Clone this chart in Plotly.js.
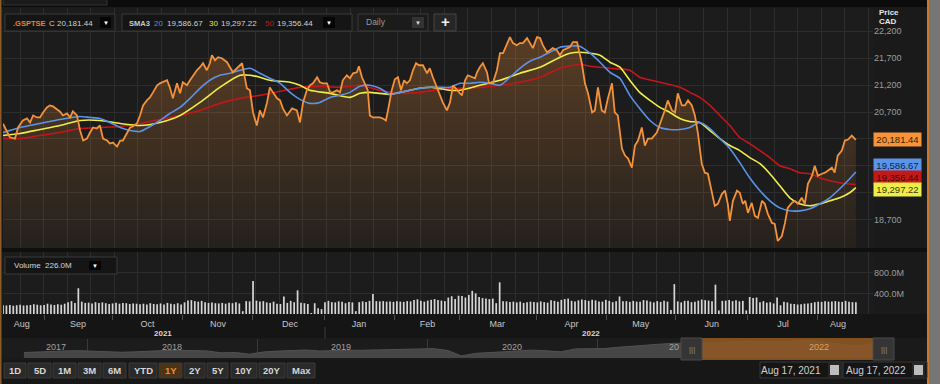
<!DOCTYPE html>
<html><head><meta charset="utf-8">
<script src="https://cdn.plot.ly/plotly-3.0.1.min.js"></script>
<style>html,body{margin:0;padding:0;background:#181818;overflow:hidden}#chart{width:940px;height:384px}</style>
</head><body><div id="chart"></div>
<script>
// ---- DATA ----
// trading session number (0 = Aug 17 2021, 249 = Aug 17 2022) and close of .GSPTSE
const closeSession = [0,1.1,2.0,3.5,4.4,5.8,7.0,7.9,8.8,9.9,10.8,11.7,12.8,13.7,14.6,15.8,16.6,17.5,18.7,19.6,
20.4,21.6,22.5,23.4,24.5,25.4,26.3,27.4,28.3,29.2,30.4,31.2,32.1,33.3,34.2,35.0,36.2,37.1,37.9,39.1,
40.0,40.9,42.0,42.9,43.8,45.0,45.8,46.7,47.9,48.7,49.6,50.8,51.7,52.5,53.7,54.6,55.5,56.6,57.5,58.4,
59.5,60.4,61.0,61.9,62.8,63.9,65.4,66.3,67.1,68.3,69.8,71.2,72.1,73.0,74.1,75.0,75.9,77.1,77.9,78.8,
80.0,80.9,81.7,82.9,84.4,85.8,86.7,87.6,88.7,89.6,90.5,91.7,92.5,93.4,94.6,95.5,96.3,97.5,98.4,99.2,
100.4,101.3,102.2,103.3,103.9,104.8,105.7,106.5,107.1,108.0,109.2,110.0,110.9,111.8,112.4,113.5,114.4,115.3,116.2,117.1,
117.9,118.8,119.7,120.6,121.4,122.6,123.8,124.6,125.5,126.7,127.6,128.4,129.6,130.5,131.4,132.5,133.4,134.0,134.9,135.7,
136.9,137.8,138.4,139.2,140.1,141.3,141.9,143.0,144.2,145.1,146.0,147.1,148.0,148.9,150.0,150.9,151.8,153.0,153.8,154.7,
155.9,156.8,157.6,158.8,159.7,160.5,161.7,162.6,163.5,164.6,165.5,166.4,167.6,169.0,169.9,170.8,172.0,172.8,173.7,174.8,
175.7,176.6,177.8,178.6,179.5,180.7,181.6,182.5,183.6,184.5,185.4,186.5,187.4,188.3,189.4,190.9,192.4,193.2,194.1,195.3,
196.2,197.0,198.2,199.1,200.0,201.1,202.0,202.9,204.0,204.9,205.8,207.0,207.8,208.7,209.9,210.8,211.6,212.2,213.1,214.3,
215.1,216.0,216.7,217.5,218.6,219.5,220.4,221.6,222.4,223.3,224.5,225.3,226.2,227.4,228.3,229.1,230.3,231.2,232.1,233.2,
234.1,235.0,236.2,237.0,237.9,239.1,240.0,240.8,242.0,242.8,243.7,244.9,245.8,246.7,247.8,249.0];
const closeValue = [20482,20357,20232,20208,20413,20543,20580,20506,20636,20599,20599,20692,20785,20822,20804,20748,20711,20636,20673,20599,
20711,20636,20357,20171,20208,20320,20413,20394,20450,20208,20171,20115,20134,20059,20171,20171,20301,20413,20431,20487,
20636,20822,20915,20971,21064,21195,21232,21251,21288,21157,20953,21232,21046,21251,21195,21288,21381,21474,21530,21604,
21474,21604,21753,21660,21716,21697,21623,21530,21437,21511,21604,21139,21102,20692,20450,20729,20599,20878,21157,21064,
20953,20915,20767,20636,20767,20729,20506,20878,21102,21195,21232,21344,21251,21232,21232,21064,21064,21102,21064,21288,
21381,21325,21418,21437,21548,21344,21232,21102,20636,20599,20599,20599,20580,20543,20729,21102,21306,21344,21102,21288,
21232,21288,21474,21604,21567,21567,21418,21511,21344,21157,21009,20878,20729,20878,21195,21102,21046,21009,21288,21381,
21344,21325,21437,21530,21604,21437,21232,21232,21474,21790,21790,21939,22088,21977,21939,21977,21977,22070,21977,21884,
22088,22070,21939,21809,21846,21884,21846,21753,21846,21884,21902,21995,21995,21604,21232,21046,20692,20729,21157,20729,
20692,20953,21232,20692,20636,20022,19892,19836,19668,20078,20171,20413,20078,20208,20208,20320,20580,20729,20915,20729,
20692,21046,20822,20822,20915,20822,20636,20301,19743,19575,19556,19184,18961,18998,19184,19240,18998,18681,19054,19240,
19203,18998,19054,18830,19016,18775,18737,19054,18998,18812,18644,18626,18309,18402,18644,18923,19016,19054,18998,19110,
18998,19370,19519,19705,19519,19556,19575,19612,19668,19575,19892,19985,20171,20190,20264,20181.44];

// 20-, 30- and 50-day simple moving averages
const sma20Session = [0,5,10.8,16.6,22.5,25.4,28.3,31.2,34.2,37.1,40,42.9,45.8,48.7,51.7,54.6,57.5,60.4,63.3,66.3,69.2,72.1,75,77.9,80.9,83.8,86.7,89.6,92.5,95.5,98.4,101.3,104.2,107.1,110,113,115.9,118.8,121.7,124.6,127.6,130.5,133.4,136.3,139.2,142.2,145.1,148,150.9,153.8,156.8,159.7,162.6,165.5,168.4,171.4,174.3,177.2,180.1,183,185.9,188.9,191.8,194.7,197.6,200.5,203.4,206.4,209.3,212.2,215.1,218,221,223.9,226.8,229.7,232.6,235.6,238.5,241.4,244.3,247.2,249];
const sma20Value = [20320,20413,20487,20562,20618,20599,20580,20506,20413,20357,20338,20431,20543,20673,20785,20953,21139,21288,21381,21418,21474,21511,21418,21325,21232,21064,20934,20860,20878,20971,21009,21064,21176,21195,21139,21027,21064,21102,21139,21157,21157,21157,21232,21232,21251,21232,21195,21344,21511,21642,21716,21809,21902,21921,21921,21790,21623,21437,21325,21009,20767,20543,20413,20376,20376,20413,20506,20394,20208,20022,19761,19482,19240,19054,18923,18868,18868,18905,18998,19110,19277,19463,19586.67];
const sma30Session = [0,5,10.8,16.6,22.5,28.3,34.2,40,45.8,51.7,57.5,63.3,69.2,72.1,75,77.9,83.8,86.7,89.6,95.5,101.3,104.2,107.1,110,113,115.9,121.7,125.5,130.5,133.4,139.2,145.1,150.9,156.8,162.6,165.5,168.4,171.4,174.3,177.2,180.1,183,185.9,188.9,191.8,194.7,197.6,200.5,203.4,206.4,209.3,212.2,215.1,218,221,223.9,226.8,229.7,232.6,235.6,238.5,241.4,244.3,247.2,249];
const sma30Value = [20264,20301,20376,20450,20543,20543,20487,20450,20506,20636,20878,21157,21381,21381,21344,21288,21251,21195,21102,21046,20971,21046,21064,21046,21027,21064,21139,21157,21102,21102,21195,21288,21418,21530,21716,21790,21809,21790,21753,21623,21530,21288,21064,20915,20785,20692,20580,20524,20506,20357,20208,20078,19985,19854,19743,19556,19333,19110,18998,18961,18998,19054,19110,19203,19297.22];
const sma50Session = [0,5,10.8,16.6,22.5,28.3,34.2,40,45.8,51.7,57.5,63.3,69.2,75,80.9,86.7,92.5,98.4,104.2,110,115.9,121.7,127.6,133.4,139.2,145.1,150.9,156.8,162.6,168.4,171.4,177.2,183,185.9,191.8,197.6,200.5,203.4,206.4,209.3,212.2,215.1,218,221,223.9,226.8,229.7,232.6,235.6,238.5,241.4,244.3,249];
const sma50Value = [20208,20208,20264,20320,20394,20413,20431,20487,20562,20636,20729,20860,20953,21009,21083,21157,21176,21157,21195,21102,21046,21064,21120,21139,21157,21195,21251,21344,21511,21586,21548,21511,21474,21344,21251,21157,21064,20971,20822,20636,20450,20227,20115,19985,19854,19705,19649,19575,19556,19482,19426,19389,19356.44];

// daily volume, millions (one value per session, Aug 17 2021 .. Aug 17 2022)
const volumeM = [170,165,175,160,170,180,165,170,175,190, 180,170,175,200,185,175,190,180,200,230,
250,215,500,240,215,220,205,230,215,225, 210,195,205,220,200,215,210,195,205,200,
190,200,185,210,195,190,205,185,215,200, 190,210,185,225,260,270,250,240,255,230,
215,225,210,205,215,200,220,210,230,205, 55,250,245,640,260,245,250,225,215,240,
200,195,340,215,255,230,460,220,210,195, 20,210,110,95,230,255,230,225,245,240,
210,235,225,55,230,245,235,255,390,250, 245,250,240,245,235,250,240,235,250,245,
270,285,255,240,260,275,290,270,260,250, 320,345,290,355,350,320,370,450,400,330,
310,300,290,300,210,615,250,245,235,240, 225,240,215,230,240,235,225,245,230,220,
265,255,240,275,290,300,255,245,265,280, 270,255,275,265,245,240,275,255,230,250,
340,250,250,235,255,240,240,270,260,240, 225,250,235,255,240,80,580,245,225,255,
255,230,240,260,280,270,260,250,570,70, 255,260,270,250,265,245,255,70,330,310,
320,230,250,220,230,205,320,170,240,225, 200,195,185,190,200,205,215,230,240,235,
250,240,245,250,240,235,255,240,230,226];
const volumeSession = volumeM.map((v,i)=>i);

// time axis labels
const monthName = ['Aug','Sep','Oct','Nov','Dec','Jan','Feb','Mar','Apr','May','Jun','Jul','Aug'];
const monthMid = [5.5,21.9,42.2,62.8,83.8,103.9,123.9,144.3,166.0,186.2,206.9,227.7,243.8];
const monthStart = [12.0,32.1,52.3,72.7,94.0,114.4,133.4,155.9,176.3,196.4,217.5,237.9];
const priceTicks = [18700,19200,19700,20200,20700,21200,21700,22200];
// labels 19,200 / 19,700 / 20,200 sit under the last-value badges in the reference
const priceTickText = ['18,700','','','','20,700','21,200','21,700','22,200'];

// navigator history (monthly)
const navDate = ['2017-08-17','2017-09-15','2017-10-15','2017-11-15','2017-12-15',
'2018-01-15','2018-02-15','2018-03-15','2018-04-15','2018-05-15','2018-06-15','2018-07-15','2018-08-15','2018-09-15','2018-10-15','2018-11-15','2018-12-15',
'2019-01-15','2019-02-15','2019-03-15','2019-04-15','2019-05-15','2019-06-15','2019-07-15','2019-08-15','2019-09-15','2019-10-15','2019-11-15','2019-12-15',
'2020-01-15','2020-02-15','2020-03-15','2020-04-15','2020-05-15','2020-06-15','2020-07-15','2020-08-15','2020-09-15','2020-10-15','2020-11-15','2020-12-15',
'2021-01-15','2021-02-15','2021-03-15','2021-04-15','2021-05-15','2021-06-15','2021-07-15','2021-08-15','2021-09-15','2021-10-15','2021-11-15','2021-12-15',
'2022-01-15','2022-02-15','2022-03-15','2022-04-15','2022-05-15','2022-06-15','2022-07-15','2022-08-17'];
const navValue = [15200,15600,16000,16100,16200, 15950,15450,15370,15600,16060,16280,16430,16260,16070,15030,15200,14320,
15540,16000,16100,16580,16040,16380,16410,16440,16660,16480,17040,17060,
17320,16260,13380,14780,15190,15520,16170,16510,16120,15580,17190,17430,
17340,18060,18700,19110,19730,20230,20290,20500,20350,21000,21400,21150,
21200,21100,21700,21700,20300,19500,18700,20181];

const rangeButtons = ['1D','5D','1M','3M','6M','YTD','1Y','2Y','5Y','10Y','20Y','Max'];

// ---- LAYOUT HELPERS ----
const W=940,H=384,ML=3,MR=67,PW=W-ML-MR;
const FONT='Liberation Sans, Arial, sans-serif';
const px=x=>(x-ML)/PW, py=y=>(H-y)/H;
const GRID='#2d2d2d';
function T(text,x,y,o){return Object.assign({text:text,xref:'paper',yref:'paper',x:px(x),y:py(y),xanchor:'left',yanchor:'middle',showarrow:false,font:{family:FONT,size:9,color:'#cfcfcf'}},o||{});}
function R(x0,y0,x1,y1,fill,line,o){return Object.assign({type:'rect',xref:'paper',yref:'paper',x0:px(x0),x1:px(x1),y0:py(y1),y1:py(y0),fillcolor:fill,line:{color:line||'rgba(0,0,0,0)',width:line?1:0},layer:'above'},o||{});}

const data = [
 {type:'scatter',x:closeSession,y:closeValue,mode:'none',fill:'tozeroy',hoverinfo:'skip',
  fillgradient:{type:'vertical',start:18179,stop:22300,colorscale:[[0,'rgba(247,148,58,0.04)'],[1,'rgba(247,148,58,0.29)']]}},
 {type:'scatter',x:sma50Session,y:sma50Value,mode:'lines',line:{color:'#c3161c',width:1.6,shape:'spline',smoothing:0.6}},
 {type:'scatter',x:sma30Session,y:sma30Value,mode:'lines',line:{color:'#eeee48',width:1.6,shape:'spline',smoothing:0.6}},
 {type:'scatter',x:sma20Session,y:sma20Value,mode:'lines',line:{color:'#5a93e8',width:1.6,shape:'spline',smoothing:0.6}},
 {type:'scatter',x:closeSession,y:closeValue,mode:'lines',line:{color:'#f3923a',width:1.8}},
 {type:'bar',x:volumeSession,y:volumeM,xaxis:'x2',yaxis:'y2',width:0.5,marker:{color:'#d6d6d6',line:{width:0}}},
 {type:'scatter',x:[],y:[],xaxis:'x3',yaxis:'y2'},
 {type:'scatter',x:[],y:[],xaxis:'x4',yaxis:'y2'},
 {type:'scatter',x:navDate,y:navValue,xaxis:'x5',yaxis:'y3',mode:'lines',fill:'tozeroy',fillcolor:'#464646',line:{color:'#525252',width:1}}
];

const ax = {range:[0,254],zeroline:false,showticklabels:false,ticks:'',tick0:5.0,dtick:6.88,gridcolor:GRID,showline:false,fixedrange:true};
const layout = {
 width:W,height:H,margin:{l:ML,r:MR,t:0,b:0,pad:0},
 paper_bgcolor:'#1a1a1a',plot_bgcolor:'#1c1c1c',showlegend:false,hovermode:false,
 font:{family:FONT,size:9,color:'#bdbdbd'},
 xaxis:Object.assign({anchor:'y',domain:[0,1]},ax),
 yaxis:{domain:[py(248),py(8)],anchor:'x',side:'right',range:[18179,22628],tickvals:priceTicks,ticktext:priceTickText,gridcolor:GRID,zeroline:false,ticks:'',tickfont:{size:9,color:'#9c9c9c'}},
 xaxis2:Object.assign({anchor:'y2',domain:[0,1]},ax),
 yaxis2:{domain:[py(314),py(252)],anchor:'x2',side:'right',range:[0,1204],tickvals:[400,800],ticktext:['400.0M','800.0M'],gridcolor:GRID,zeroline:false,ticks:'',tickfont:{size:9,color:'#9c9c9c'}},
 xaxis3:{overlaying:'x2',anchor:'y2',range:[0,254],tickvals:monthStart,ticks:'outside',ticklen:5,tickcolor:'#4a4a4a',showticklabels:false,showgrid:false,zeroline:false},
 xaxis4:{overlaying:'x2',anchor:'y2',range:[0,254],tickvals:monthMid,ticktext:monthName,ticks:'',ticklabelstandoff:3,showgrid:false,zeroline:false,tickfont:{size:9,color:'#c6c6c6'}},
 xaxis5:{anchor:'y3',domain:[0,1],type:'date',range:['2017-07-03','2022-08-17'],tick0:'2018-01-01',dtick:'M12',showgrid:true,gridcolor:'#3a3a3a',showticklabels:false,ticks:'',zeroline:false},
 yaxis3:{domain:[py(358),py(339)],anchor:'x5',range:[12250,22540],showgrid:false,showticklabels:false,zeroline:false,ticks:''},
 shapes:[],annotations:[]
};

const S=layout.shapes, A=layout.annotations;
// background bands
S.push(R(-5,0,945,7,'#0c0c0c',null,{layer:'below'}));
S.push(R(3,-2,107,5,'#1a1a1a','#333333',{layer:'below'}));
S.push(R(-5,314,945,338,'#151515',null,{layer:'below'}));
S.push(R(-5,360,945,385,'#171717',null,{layer:'below'}));
S.push(R(-5,248,945,252,'#0f0f0f',null,{layer:'below'}));
// frame lines
S.push(R(0,0,1.5,384,'#8d5a2b'));
S.push(R(927,0,929,384,'#c7792f'));
S.push(R(929,0,941,384,'#767676'));
// year separator in time strip
S.push({type:'line',xref:'x2',yref:'paper',x0:94,x1:94,y0:py(339),y1:py(327),line:{color:'#3c3c3c',width:1}});
// top legend boxes
S.push(R(5,14,115,31,'#151515','#3a3a3a'));
S.push(R(100,17,111,28,'#050505'));
S.push(R(122,14,352,31,'#151515','#3a3a3a'));
S.push(R(323,17,335,28,'#050505'));
S.push(R(358,14,428,31,'#1b1b1b','#3a3a3a'));
S.push(R(412,17,424,28,'#333333'));
S.push(R(434,14,456,31,'#262626','#444444'));
// volume legend
S.push(R(5,257,117,274,'#151515','#3a3a3a'));
S.push(R(89,261,101,270,'#050505'));
// navigator selection + handles
S.push(R(702,338,873,360,'rgba(143,89,36,0.88)'));
S.push(R(681,338,702,360,'#353535','#4a4a4a'));
S.push(R(873,338,894,360,'#353535','#4a4a4a'));
// date boxes
S.push(R(760,362,842,378,'#151515','#383838'));
S.push(R(828,363,841,377,'#262626'));
S.push(R(830,365,839,375,'#bdbdbd'));
S.push(R(843,362,927,378,'#151515','#383838'));
S.push(R(912,363,925,377,'#262626'));
S.push(R(914,365,923,375,'#bdbdbd'));

// legend texts
A.push(T('<b>.GSPTSE</b>',11,23,{font:{family:FONT,size:7.5,color:'#e8832a'}}));
A.push(T('C 20,181.44',47,23,{font:{family:FONT,size:8,color:'#cfcfcf'}}));
A.push(T('▼',105.5,22.5,{xanchor:'center',font:{family:FONT,size:6,color:'#ffffff'}}));
A.push(T('<b>SMA3</b>',127,23,{font:{family:FONT,size:7.5,color:'#c8c8c8'}}));
A.push(T('20',152,23,{font:{family:FONT,size:8,color:'#4f8fe8'}}));
A.push(T('19,586.67',165,23,{font:{family:FONT,size:8,color:'#d2d2d2'}}));
A.push(T('30',207,23,{font:{family:FONT,size:8,color:'#e6e63c'}}));
A.push(T('19,297.22',219,23,{font:{family:FONT,size:8,color:'#d2d2d2'}}));
A.push(T('50',263,23,{font:{family:FONT,size:8,color:'#c4181e'}}));
A.push(T('19,356.44',275,23,{font:{family:FONT,size:8,color:'#d2d2d2'}}));
A.push(T('▼',329,22.5,{xanchor:'center',font:{family:FONT,size:6,color:'#ffffff'}}));
A.push(T('Daily',364,22,{font:{family:FONT,size:8.5,color:'#9a9a9a'}}));
A.push(T('▼',418,22.5,{xanchor:'center',font:{family:FONT,size:6,color:'#dddddd'}}));
A.push(T('<b>+</b>',445,22,{xanchor:'center',font:{family:FONT,size:15,color:'#f0f0f0'}}));
A.push(T('<b>Price</b>',877,12,{font:{family:FONT,size:8,color:'#e6e6e6'}}));
A.push(T('<b>CAD</b>',877,22,{font:{family:FONT,size:8,color:'#e6e6e6'}}));
A.push(T('Volume',12,265.5,{font:{family:FONT,size:8,color:'#d6d6d6'}}));
A.push(T('226.0M',43,265.5,{font:{family:FONT,size:8,color:'#d6d6d6'}}));
A.push(T('▼',95,265.5,{xanchor:'center',font:{family:FONT,size:6,color:'#ffffff'}}));
// year labels of time axis
A.push(T('<b>2021</b>',163,333,{xanchor:'center',font:{family:FONT,size:8,color:'#d8d8d8'}}));
A.push(T('<b>2022</b>',591,333,{xanchor:'center',font:{family:FONT,size:8,color:'#d8d8d8'}}));
// navigator year labels
[['2017',56],['2018',172],['2019',341],['2020',512]].forEach(a=>A.push(T(a[0],a[1],347,{xanchor:'center',font:{family:FONT,size:9,color:'#a0a0a0'}})));
A.push(T('20',681,347,{xanchor:'right',font:{family:FONT,size:9,color:'#a0a0a0'}}));
A.push(T('2022',819,347,{xanchor:'center',font:{family:FONT,size:9,color:'#d9a263'}}));
A.push(T('|||',691.5,349,{xanchor:'center',font:{family:FONT,size:8,color:'#8a8a8a'}}));
A.push(T('|||',883.5,349,{xanchor:'center',font:{family:FONT,size:8,color:'#8a8a8a'}}));
// range buttons
const btnBox=[[4,26],[28,51],[53,76],[78,101],[103,126],[129,157],[159,182],[184,205],[207,228],[231,257],[259,285],[287,315]];
rangeButtons.forEach((b,i)=>{
  const on=b==='1Y';
  S.push(R(btnBox[i][0],363,btnBox[i][1],378,on?'#4b3417':'#2a2a2a','#3a3a3a'));
  A.push(T('<b>'+b+'</b>',(btnBox[i][0]+btnBox[i][1])/2,370.5,{xanchor:'center',font:{family:FONT,size:9.5,color:on?'#e8922e':'#d6d6d6'}}));
});
A.push(T('Aug 17, 2021',791,370.5,{xanchor:'center',font:{family:FONT,size:10,color:'#d0d0d0'}}));
A.push(T('Aug 17, 2022',876,370.5,{xanchor:'center',font:{family:FONT,size:10,color:'#d0d0d0'}}));
// last-value badges on price axis
function badge(val,text,bg,fg,shift){A.push({xref:'paper',yref:'y',x:px(873),y:val,yshift:shift,xanchor:'left',yanchor:'middle',showarrow:false,text:text,bgcolor:bg,width:45,height:11,borderpad:1,align:'center',font:{family:FONT,size:9.5,color:fg}});}
badge(closeValue[closeValue.length-1],'20,181.44','#f7943a','#3a1f00',0);
badge(sma20Value[sma20Value.length-1],'19,586.67','#5b95ea','#0c1f4a',7);
badge(sma50Value[sma50Value.length-1],'19,356.44','#c21a18','#4a0505',7);
badge(sma30Value[sma30Value.length-1],'19,297.22','#eeee48','#3a3a00',-2);

Plotly.newPlot('chart',data,layout,{displayModeBar:false,staticPlot:true});
</script>
</body></html>
